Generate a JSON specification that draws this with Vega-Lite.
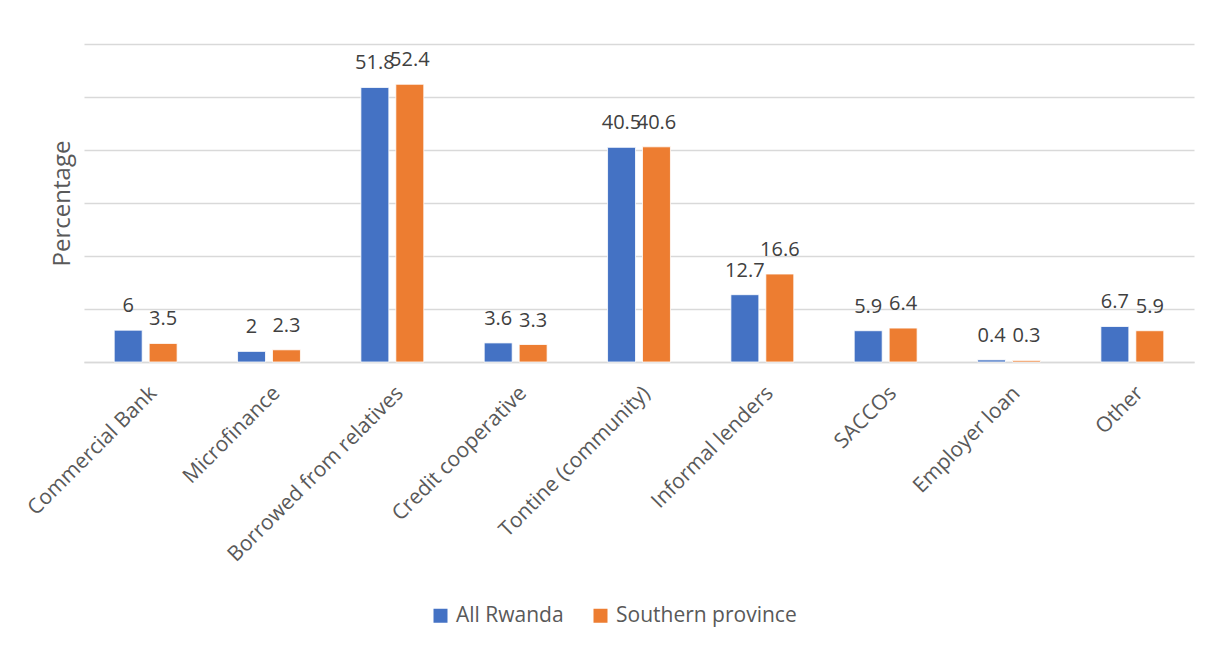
{
  "$schema": "https://vega.github.io/schema/vega-lite/v6.json",
  "width": 1110,
  "height": 318,
  "autosize": {"type": "none"},
  "padding": {"left": 84, "top": 44, "right": 15, "bottom": 289},
  "background": "white",
  "config": {
    "font": "Open Sans",
    "view": {"stroke": null}
  },
  "data": {
    "values": [
      {"source": "Commercial Bank", "region": "All Rwanda", "pct": 6},
      {"source": "Commercial Bank", "region": "Southern province", "pct": 3.5},
      {"source": "Microfinance", "region": "All Rwanda", "pct": 2},
      {"source": "Microfinance", "region": "Southern province", "pct": 2.3},
      {"source": "Borrowed from relatives", "region": "All Rwanda", "pct": 51.8},
      {"source": "Borrowed from relatives", "region": "Southern province", "pct": 52.4},
      {"source": "Credit cooperative", "region": "All Rwanda", "pct": 3.6},
      {"source": "Credit cooperative", "region": "Southern province", "pct": 3.3},
      {"source": "Tontine (community)", "region": "All Rwanda", "pct": 40.5},
      {"source": "Tontine (community)", "region": "Southern province", "pct": 40.6},
      {"source": "Informal lenders", "region": "All Rwanda", "pct": 12.7},
      {"source": "Informal lenders", "region": "Southern province", "pct": 16.6},
      {"source": "SACCOs", "region": "All Rwanda", "pct": 5.9},
      {"source": "SACCOs", "region": "Southern province", "pct": 6.4},
      {"source": "Employer loan", "region": "All Rwanda", "pct": 0.4},
      {"source": "Employer loan", "region": "Southern province", "pct": 0.3},
      {"source": "Other", "region": "All Rwanda", "pct": 6.7},
      {"source": "Other", "region": "Southern province", "pct": 5.9}
    ]
  },
  "encoding": {
    "x": {
      "field": "source",
      "type": "nominal",
      "sort": null,
      "scale": {"paddingInner": 0.49, "paddingOuter": 0.245},
      "axis": {
        "title": null,
        "labelAngle": -45,
        "labelFontSize": 21,
        "labelColor": "#595959",
        "labelPadding": 20,
        "labelLimit": 0,
        "ticks": false,
        "domainColor": "#D9D9D9",
        "domainWidth": 1.3
      }
    },
    "xOffset": {
      "field": "region",
      "type": "nominal",
      "scale": {"paddingInner": 0.2, "paddingOuter": 0}
    },
    "y": {
      "field": "pct",
      "type": "quantitative",
      "scale": {"domain": [0, 60], "nice": false},
      "axis": {
        "title": "Percentage",
        "titleFontSize": 24,
        "titleFontWeight": "normal",
        "titleColor": "#595959",
        "titlePadding": 10,
        "labels": false,
        "ticks": false,
        "domain": false,
        "values": [0, 10, 20, 30, 40, 50, 60],
        "gridColor": "#D9D9D9",
        "gridWidth": 1.3
      }
    },
    "color": {
      "field": "region",
      "type": "nominal",
      "scale": {
        "domain": ["All Rwanda", "Southern province"],
        "range": ["#4472C4", "#ED7D31"]
      },
      "legend": {
        "title": null,
        "orient": "none",
        "direction": "horizontal",
        "legendX": 346,
        "legendY": 561,
        "symbolType": "square",
        "symbolSize": 196,
        "symbolStrokeWidth": 0,
        "labelFontSize": 21,
        "labelColor": "#595959",
        "labelOffset": 5,
        "labelLimit": 0,
        "columnPadding": 26
      }
    }
  },
  "layer": [
    {"mark": {"type": "bar", "stroke": "white", "strokeWidth": 0.8}},
    {
      "mark": {"type": "text", "baseline": "alphabetic", "dy": -18, "fontSize": 20, "color": "#404040"},
      "encoding": {
        "text": {"field": "pct", "type": "quantitative", "format": ".1~f"},
        "color": {"value": "#404040"}
      }
    }
  ]
}
